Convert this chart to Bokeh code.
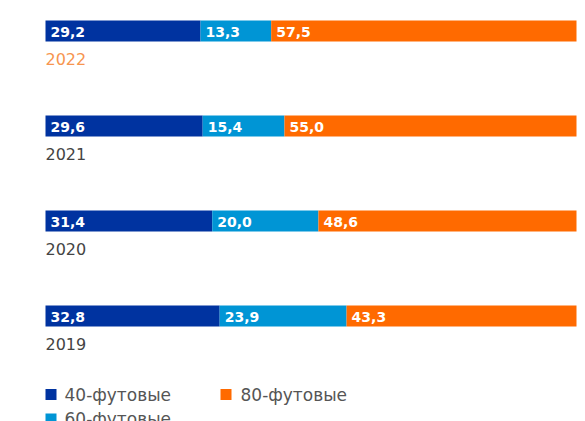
from bokeh.plotting import figure
from bokeh.models import Range1d, ColumnDataSource
from bokeh.core.properties import value
from bokeh.embed import file_html
from bokeh.resources import INLINE

years = ["2022", "2021", "2020", "2019"]
ft40 = [29.2, 29.6, 31.4, 32.8]
ft60 = [13.3, 15.4, 20.0, 23.9]
ft80 = [57.5, 55.0, 48.6, 43.3]
series_names = ["40-футовые", "60-футовые", "80-футовые"]
colors = ["#0033a0", "#0095d5", "#ff6a00"]

W, H = 585, 421
X0_PX = 45.0          # pixel of 0 %
PX_PER = 5.31         # pixels per percent
xs = -X0_PX / PX_PER
xe = (W - X0_PX) / PX_PER

def px2x(px):
    return xs + px / PX_PER

LIGHT = value("'DejaVu Sans ExtraLight', 'DejaVu Sans'")

p = figure(width=W, height=H, x_range=Range1d(xs, xe), y_range=Range1d(H, 0),
           output_backend="svg", toolbar_location=None, min_border=0,
           x_axis_location=None, y_axis_location=None)
p.grid.visible = False
p.outline_line_color = None
p.background_fill_color = "white"
p.border_fill_color = "white"

yc = [30.5 + i * 95 for i in range(len(years))]
bar_h = 21

lefts = []
rights = []
for a, b, c in zip(ft40, ft60, ft80):
    lefts.append([0, a, a + b])
    rights.append([a, a + b, a + b + c])

vals = [ft40, ft60, ft80]
for s in range(3):
    src = ColumnDataSource(dict(
        y=yc,
        left=[lefts[i][s] for i in range(len(years))],
        right=[rights[i][s] for i in range(len(years))],
        lab=[f"{v:.1f}".replace(".", ",") for v in vals[s]],
        lx=[lefts[i][s] + 5 / PX_PER for i in range(len(years))],
    ))
    p.hbar(y="y", left="left", right="right", height=bar_h, color=colors[s],
           line_color=None, source=src)
    p.text(x="lx", y="y", text="lab", source=src, text_color="white",
           text_font=value("DejaVu Sans"), text_font_style="bold",
           text_font_size="14px", text_baseline="middle", y_offset=1)

year_colors = ["#f7954f" if i == 0 else "#444444" for i in range(len(years))]
p.text(x=[0] * len(years), y=[y + 28 for y in yc], text=years,
       text_color=year_colors, text_font=LIGHT,
       text_font_size="16px", text_baseline="middle")

# legend
leg_x_sq = [px2x(50.5), px2x(50.5), px2x(225.5)]
leg_x_tx = [px2x(64), px2x(64), px2x(240)]
leg_y = [394, 418.5, 394]
p.rect(x=leg_x_sq, y=leg_y, width=11, height=11, width_units="screen",
       height_units="screen", color=colors, line_color=None)
p.text(x=leg_x_tx, y=leg_y, text=series_names, text_color="#555555",
       text_font=LIGHT, text_font_size="17px", text_baseline="middle")

open("out.html", "w").write(file_html(p, INLINE))
